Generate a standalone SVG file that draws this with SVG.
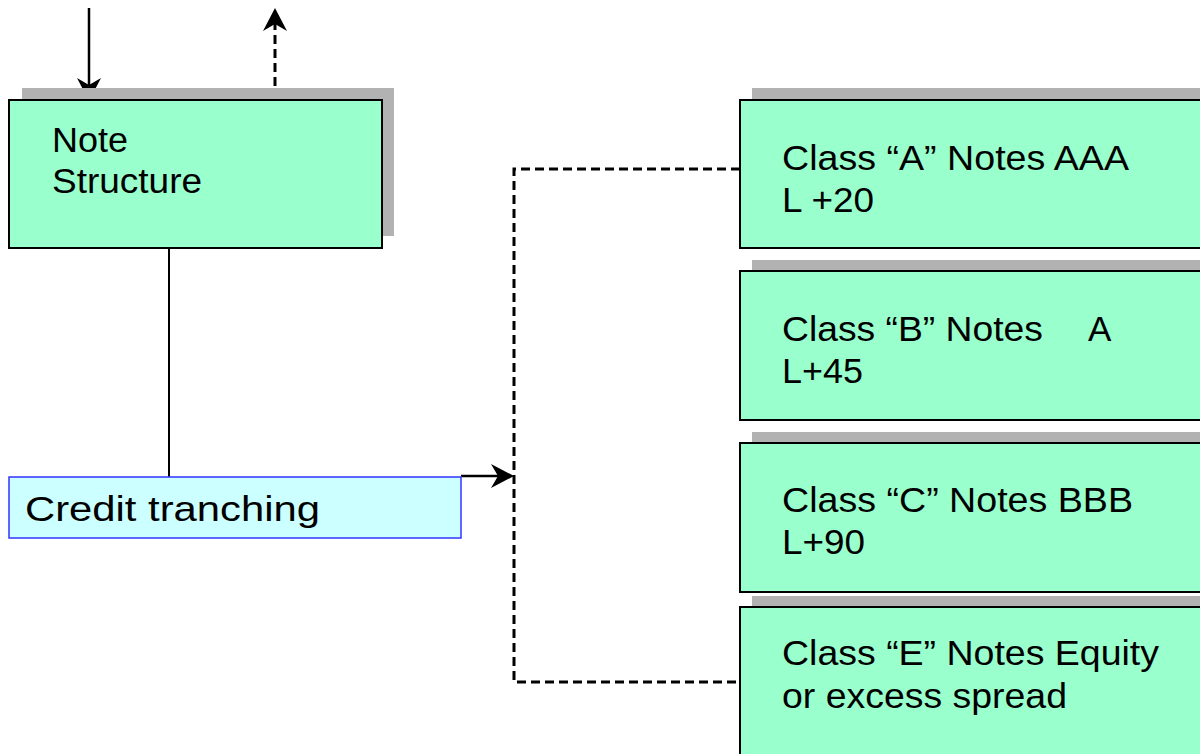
<svg xmlns="http://www.w3.org/2000/svg" width="1200" height="754" viewBox="0 0 1200 754">
<style>
.shadow{fill:#b2b2b2;stroke:none}
.box{fill:#99ffcc;stroke:#000;stroke-width:2}
.t{font-family:"Liberation Sans",Arial,sans-serif;font-size:35px;fill:#000}
.solid{fill:none;stroke:#000;stroke-width:2.5}
.thin{fill:none;stroke:#000;stroke-width:2}
.dash{fill:none;stroke:#000;stroke-width:3;stroke-dasharray:9 5}
.head{fill:#000;stroke:none}
</style>
<rect width="1200" height="754" fill="#fff"/>
<g id="connectors">
<path class="solid" d="M89,8 V88"/>
<path class="head" d="M89,101 L77,78 L89,85 L101,78 Z"/>
<path class="dash" d="M275,100 V22"/>
<path class="head" d="M275,8 L263,31 L275,24 L287,31 Z"/>
<path class="thin" d="M169,248 V477"/>
<path class="solid" d="M461,476 H502"/>
<path class="head" d="M514,476 L491,464 L498,476 L491,488 Z"/>
<path class="dash" d="M740,169 H514 V682 H740"/>
</g>
<g id="note-structure">
<rect class="shadow" x="22" y="88" width="372" height="148"/>
<rect class="box" x="9" y="100" width="373" height="148"/>
<text class="t" x="52" y="152" textLength="76" lengthAdjust="spacingAndGlyphs">Note</text>
<text class="t" x="52" y="193" textLength="150" lengthAdjust="spacingAndGlyphs">Structure</text>
</g>
<g id="credit-tranching">
<rect x="9" y="477" width="452" height="61" fill="#ccffff" stroke="#3333ff" stroke-width="1.5"/>
<text class="t" x="25" y="521" textLength="295" lengthAdjust="spacingAndGlyphs">Credit tranching</text>
</g>
<g id="class-a">
<rect class="shadow" x="752" y="88" width="460" height="148"/>
<rect class="box" x="740" y="100" width="470" height="148"/>
<text class="t" x="782" y="170" textLength="347" lengthAdjust="spacingAndGlyphs">Class “A” Notes AAA</text>
<text class="t" x="782" y="212" textLength="92" lengthAdjust="spacingAndGlyphs">L +20</text>
</g>
<g id="class-b">
<rect class="shadow" x="752" y="260" width="460" height="148"/>
<rect class="box" x="740" y="271" width="470" height="149"/>
<text class="t" x="782" y="341" textLength="261" lengthAdjust="spacingAndGlyphs">Class “B” Notes</text>
<text class="t" x="1088" y="341">A</text>
<text class="t" x="782" y="383" textLength="81" lengthAdjust="spacingAndGlyphs">L+45</text>
</g>
<g id="class-c">
<rect class="shadow" x="752" y="432" width="460" height="148"/>
<rect class="box" x="740" y="443" width="470" height="149"/>
<text class="t" x="782" y="512" textLength="351" lengthAdjust="spacingAndGlyphs">Class “C” Notes BBB</text>
<text class="t" x="782" y="554" textLength="83" lengthAdjust="spacingAndGlyphs">L+90</text>
</g>
<g id="class-e">
<rect class="shadow" x="752" y="596" width="460" height="170"/>
<rect class="box" x="740" y="607" width="470" height="160"/>
<text class="t" x="782" y="665" textLength="377" lengthAdjust="spacingAndGlyphs">Class “E” Notes Equity</text>
<text class="t" x="782" y="708" textLength="285" lengthAdjust="spacingAndGlyphs">or excess spread</text>
</g>
</svg>
